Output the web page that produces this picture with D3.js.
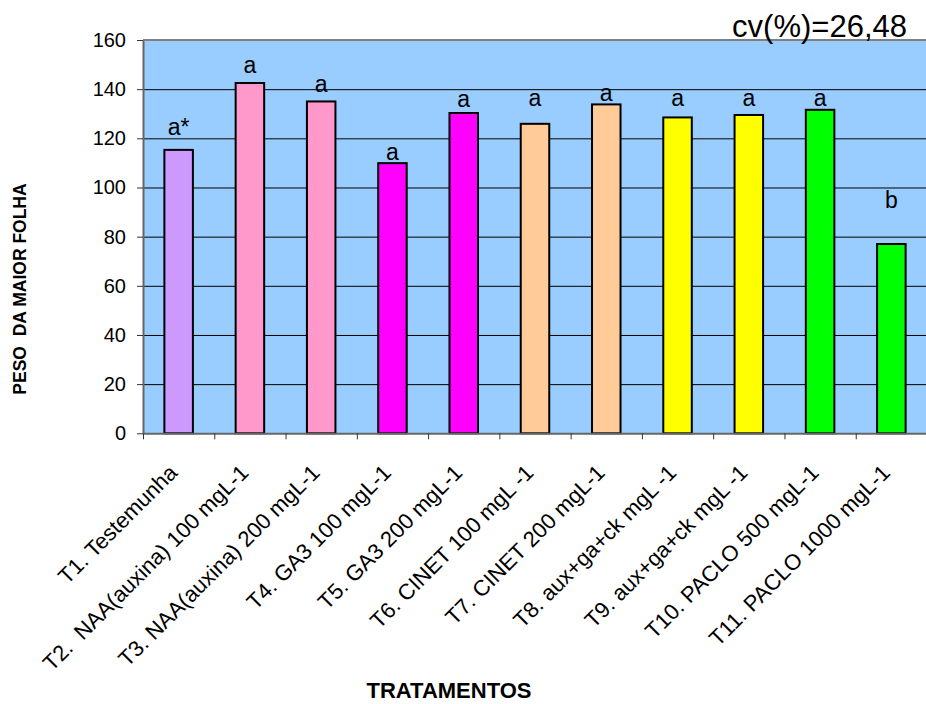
<!DOCTYPE html>
<html>
<head>
<meta charset="utf-8">
<script src="https://cdn.jsdelivr.net/npm/d3@7"></script>
<style>
  body { margin: 0; background: #fff; }
  svg { display: block; font-family: "Liberation Sans", Arial, sans-serif; }
</style>
</head>
<body>
<div id="chart"></div>
<script>
// data
const treatments = [
  "T1. Testemunha",
  "T2.  NAA(auxina) 100 mgL-1",
  "T3. NAA(auxina) 200 mgL-1",
  "T4. GA3 100 mgL-1",
  "T5. GA3 200 mgL-1",
  "T6. CINET 100 mgL -1",
  "T7. CINET 200 mgL-1",
  "T8. aux+ga+ck mgL -1",
  "T9. aux+ga+ck mgL -1",
  "T10. PACLO 500 mgL-1",
  "T11. PACLO 1000 mgL-1"
];
const pesoFolha = [115.3, 142.5, 135.0, 109.9, 130.3, 125.9, 133.8, 128.5, 129.5, 131.6, 77.0];
const letters = ["a*", "a", "a", "a", "a", "a", "a", "a", "a", "a", "b"];
// height (in chart units) where each letter sits
const letterAt = [121.5, 146.6, 138.7, 111.3, 132.7, 133.0, 135.0, 133.0, 133.0, 133.0, 91.6];
const barColors = ["#CC99FF", "#FF99CC", "#FF99CC", "#FF00FF", "#FF00FF", "#FFCC99", "#FFCC99", "#FFFF00", "#FFFF00", "#00FF00", "#00FF00"];
const yTicks = [0, 20, 40, 60, 80, 100, 120, 140, 160];
const cvText = "cv(%)=26,48";

const WIDTH = 926;
const HEIGHT = 704;
const plot = { left: 143, top: 40, right: 927, bottom: 433.3 };

const svg = d3.select("#chart")
  .append("svg")
  .attr("width", WIDTH)
  .attr("height", HEIGHT);

// scales
const x = d3.scaleBand()
  .domain(treatments)
  .range([plot.left, plot.right])
  .paddingInner(0.6)
  .paddingOuter(0.3);

const xIdx = d3.scaleLinear()
  .domain([0, treatments.length])
  .range([plot.left, plot.right]);

const y = d3.scaleLinear()
  .domain([0, 160])
  .range([plot.bottom, plot.top]);

// plot background
svg.append("rect")
  .attr("x", plot.left)
  .attr("y", plot.top)
  .attr("width", plot.right - plot.left)
  .attr("height", plot.bottom - plot.top)
  .attr("fill", "#99CCFF");

// gridlines
svg.append("g")
  .attr("transform", `translate(${plot.left},0)`)
  .call(d3.axisLeft(y).tickValues(yTicks.slice(1, -1)).tickSize(-(plot.right - plot.left)).tickFormat(""))
  .call(g => g.select(".domain").remove())
  .call(g => g.selectAll("line").attr("stroke", "#000").attr("stroke-width", 1));

// top border of plot area
svg.append("line")
  .attr("x1", plot.left).attr("x2", plot.right)
  .attr("y1", y(160)).attr("y2", y(160))
  .attr("stroke", "#808080").attr("stroke-width", 2);

// bars
svg.selectAll(".bar")
  .data(pesoFolha)
  .enter()
  .append("rect")
  .attr("class", "bar")
  .attr("x", (d, i) => x(treatments[i]))
  .attr("y", d => y(d))
  .attr("width", x.bandwidth())
  .attr("height", d => y(0) - y(d))
  .attr("fill", (d, i) => barColors[i])
  .attr("stroke", "#000")
  .attr("stroke-width", 2);

// y axis
svg.append("g")
  .attr("transform", `translate(${plot.left},0)`)
  .call(d3.axisLeft(y).tickValues(yTicks).tickSize(6).tickPadding(11).tickSizeOuter(0))
  .call(g => g.select(".domain").attr("stroke", "#666").attr("stroke-width", 2))
  .call(g => g.selectAll("line").attr("stroke", "#333"))
  .call(g => g.selectAll("text").attr("font-size", "20px").attr("fill", "#000")
    .attr("font-family", "Liberation Sans, Arial, sans-serif"));

// x axis (ticks at category boundaries)
svg.append("g")
  .attr("transform", `translate(0,${plot.bottom})`)
  .call(d3.axisBottom(xIdx).tickValues(d3.range(treatments.length + 1)).tickSize(6).tickFormat("").tickSizeOuter(0))
  .call(g => g.select(".domain").attr("stroke", "#666").attr("stroke-width", 2))
  .call(g => g.selectAll("line").attr("stroke", "#333"));

// rotated category labels
svg.append("g")
  .selectAll("text")
  .data(treatments)
  .enter()
  .append("text")
  .attr("transform", d => `translate(${x(d) + x.bandwidth() / 2},474) rotate(-45)`)
  .attr("text-anchor", "end")
  .attr("font-size", "22px")
  .attr("fill", "#000")
  .style("white-space", "pre")
  .text(d => d);

// significance letters
svg.append("g")
  .selectAll("text")
  .data(letters)
  .enter()
  .append("text")
  .attr("x", (d, i) => x(treatments[i]) + x.bandwidth() / 2)
  .attr("y", (d, i) => y(letterAt[i]))
  .attr("text-anchor", "middle")
  .attr("font-size", "23px")
  .attr("fill", "#000")
  .text(d => d);

// cv note
svg.append("text")
  .attr("x", 907)
  .attr("y", 37)
  .attr("text-anchor", "end")
  .attr("font-size", "31px")
  .attr("fill", "#000")
  .text(cvText);

// axis titles
svg.append("text")
  .attr("x", 449)
  .attr("y", 698)
  .attr("text-anchor", "middle")
  .attr("font-size", "22px")
  .attr("font-weight", "bold")
  .text("TRATAMENTOS");

svg.append("text")
  .attr("transform", "translate(26,289) rotate(-90)")
  .attr("text-anchor", "middle")
  .attr("font-size", "17.5px")
  .attr("font-weight", "bold")
  .style("white-space", "pre")
  .text("PESO  DA MAIOR FOLHA");
</script>
</body>
</html>
